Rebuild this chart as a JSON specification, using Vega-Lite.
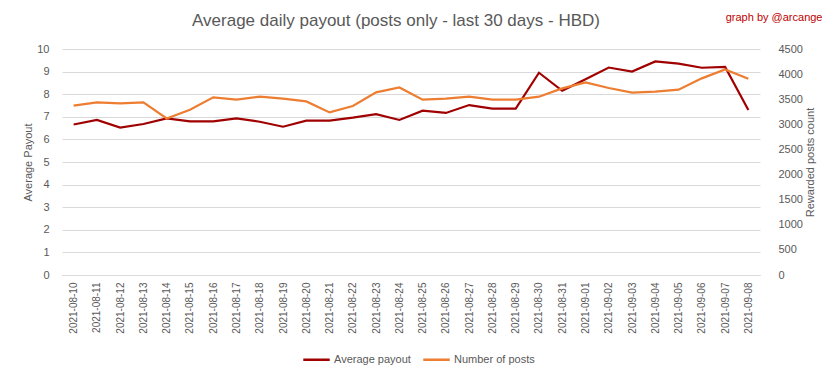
{
  "$schema": "https://vega.github.io/schema/vega-lite/v6.json",
  "width": 698,
  "height": 226,
  "autosize": {"type": "none"},
  "padding": {"left": 62, "top": 49, "right": 73, "bottom": 104},
  "background": "white",
  "config": {
    "font": "Liberation Sans",
    "view": {"stroke": null},
    "axis": {"labelColor": "#595959", "titleColor": "#595959", "labelFont": "Liberation Sans", "titleFont": "Liberation Sans", "titleFontWeight": "normal"}
  },
  "title": {
    "text": "Average daily payout (posts only - last 30 days - HBD)",
    "anchor": "middle",
    "frame": "group",
    "dx": -15,
    "offset": -19,
    "fontSize": 17,
    "fontWeight": "normal",
    "color": "#595959",
    "font": "Liberation Sans"
  },
  "data": {
    "values": [
      {"date": "2021-08-10", "payout": 6.66, "posts": 3371},
      {"date": "2021-08-11", "payout": 6.86, "posts": 3437},
      {"date": "2021-08-12", "payout": 6.52, "posts": 3417},
      {"date": "2021-08-13", "payout": 6.68, "posts": 3437},
      {"date": "2021-08-14", "payout": 6.93, "posts": 3118},
      {"date": "2021-08-15", "payout": 6.80, "posts": 3292},
      {"date": "2021-08-16", "payout": 6.80, "posts": 3537},
      {"date": "2021-08-17", "payout": 6.93, "posts": 3491},
      {"date": "2021-08-18", "payout": 6.78, "posts": 3550},
      {"date": "2021-08-19", "payout": 6.56, "posts": 3511},
      {"date": "2021-08-20", "payout": 6.83, "posts": 3457},
      {"date": "2021-08-21", "payout": 6.83, "posts": 3238},
      {"date": "2021-08-22", "payout": 6.96, "posts": 3365},
      {"date": "2021-08-23", "payout": 7.12, "posts": 3636},
      {"date": "2021-08-24", "payout": 6.86, "posts": 3733},
      {"date": "2021-08-25", "payout": 7.27, "posts": 3491},
      {"date": "2021-08-26", "payout": 7.17, "posts": 3511},
      {"date": "2021-08-27", "payout": 7.52, "posts": 3550},
      {"date": "2021-08-28", "payout": 7.36, "posts": 3491},
      {"date": "2021-08-29", "payout": 7.36, "posts": 3491},
      {"date": "2021-08-30", "payout": 8.95, "posts": 3550},
      {"date": "2021-08-31", "payout": 8.15, "posts": 3716},
      {"date": "2021-09-01", "payout": 8.66, "posts": 3835},
      {"date": "2021-09-02", "payout": 9.18, "posts": 3723},
      {"date": "2021-09-03", "payout": 9.00, "posts": 3630},
      {"date": "2021-09-04", "payout": 9.45, "posts": 3650},
      {"date": "2021-09-05", "payout": 9.35, "posts": 3690},
      {"date": "2021-09-06", "payout": 9.17, "posts": 3915},
      {"date": "2021-09-07", "payout": 9.21, "posts": 4094},
      {"date": "2021-09-08", "payout": 7.30, "posts": 3909}
    ]
  },
  "layer": [
    {
      "mark": {"type": "line", "strokeWidth": 2.2},
      "encoding": {
        "x": {
          "field": "date", "type": "ordinal", "sort": null,
          "scale": {"paddingInner": 0, "paddingOuter": 0},
          "axis": {
            "orient": "bottom", "title": null, "labelAngle": -90, "labelFontSize": 10,
            "labelPadding": 7, "ticks": false, "domainColor": "#d9d9d9", "grid": false
          }
        },
        "y": {
          "field": "payout", "type": "quantitative",
          "scale": {"domain": [0, 10], "nice": false},
          "axis": {
            "orient": "left", "title": "Average Payout", "values": [0,1,2,3,4,5,6,7,8,9,10],
            "ticks": false, "domain": false, "grid": true, "gridColor": "#d9d9d9",
            "labelFontSize": 11, "labelPadding": 13, "titleFontSize": 11, "titlePadding": 3
          }
        },
        "color": {
          "datum": "Average payout", "type": "nominal",
          "scale": {"domain": ["Average payout", "Number of posts"], "range": ["#A00000", "#ED7D31"]},
          "legend": {
            "orient": "none", "legendX": 240, "legendY": 296, "direction": "horizontal",
            "title": null, "symbolType": "stroke", "symbolSize": 700, "symbolStrokeWidth": 2.5,
            "labelFontSize": 11, "labelColor": "#595959", "columnPadding": 7, "labelOffset": 3
          }
        }
      }
    },
    {
      "mark": {"type": "line", "strokeWidth": 2.2},
      "encoding": {
        "x": {
          "field": "date", "type": "ordinal", "sort": null,
          "axis": {
            "orient": "top", "labels": false, "ticks": false, "domain": false, "grid": false,
            "title": "graph by @arcange", "titleColor": "#C00000", "titleFontSize": 11,
            "titleAnchor": "end", "titleAlign": "right", "titleX": 760, "titleY": -32, "titleBaseline": "middle"
          }
        },
        "y": {
          "field": "posts", "type": "quantitative",
          "scale": {"domain": [0, 4500], "nice": false},
          "axis": {
            "orient": "right", "title": "Rewarded posts count", "values": [0,500,1000,1500,2000,2500,3000,3500,4000,4500],
            "format": "d", "titleAngle": 270,
            "ticks": false, "domain": false, "grid": false,
            "labelFontSize": 11, "labelPadding": 18, "titleFontSize": 11, "titlePadding": 13
          }
        },
        "color": {"datum": "Number of posts", "type": "nominal"}
      }
    }
  ],
  "resolve": {"scale": {"y": "independent"}, "axis": {"x": "independent", "y": "independent"}}
}
